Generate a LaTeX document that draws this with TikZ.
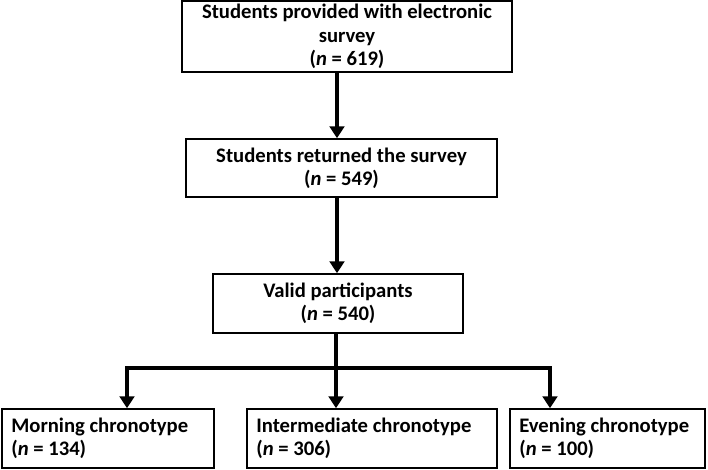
\documentclass[tikz,border=0pt]{standalone}
\usepackage{fontspec}
\setmainfont{Carlito}
\usetikzlibrary{arrows.meta}
\begin{document}
\begin{tikzpicture}[x=0.75pt,y=-0.75pt,
    box/.style={draw, line width=1.1pt, inner sep=0pt, align=center,
      font=\bfseries\fontsize{15.5}{17.5}\selectfont},
    leafbox/.style={box, align=flush left, inner xsep=7pt, text width=#1},
    flow/.style={line width=3pt, -{Triangle[width=11pt,length=9pt]}},
    trunk/.style={line width=3pt}]
    \useasboundingbox (0,0) rectangle (708,470);
    % stages
    \node[box, minimum width=247.5pt, minimum height=53.25pt] (surveyed) at (347,36.5)
        {Students provided with electronic\\survey\\(\textit{n} = 619)};
    \node[box, minimum width=233.25pt, minimum height=43.5pt] (returned) at (341.5,168)
        {Students returned the survey\\(\textit{n} = 549)};
    \node[box, minimum width=187.5pt, minimum height=44.25pt] (valid) at (338,303.5)
        {Valid participants\\(\textit{n} = 540)};
    % chronotypes
    \node[leafbox=145pt, minimum height=44.25pt] (morning) at (108,438.5)
        {Morning chronotype\\(\textit{n} = 134)};
    \node[leafbox=173.5pt, minimum height=44.25pt] (inter) at (372,438.5)
        {Intermediate chronotype\\(\textit{n} = 306)};
    \node[leafbox=132.25pt, minimum height=44.25pt] (evening) at (607.5,438.5)
        {Evening chronotype\\(\textit{n} = 100)};
    % connectors
    \coordinate (spine) at (337,0);
    \coordinate (split) at (336,368);
    \coordinate (ja) at (127,368);
    \coordinate (jc) at (550,368);
    \draw[flow] (surveyed.south -| spine) -- (returned.north -| spine);
    \draw[flow] (returned.south -| spine) -- (valid.north -| spine);
    \draw[trunk] (valid.south -| split) -- (split);
    \draw[trunk] ([xshift=-1.5pt]ja) -- ([xshift=1.5pt]jc);
    \draw[flow] (ja) -- (ja |- morning.north);
    \draw[flow] (split) -- (split |- inter.north);
    \draw[flow] (jc) -- (jc |- evening.north);
\end{tikzpicture}
\end{document}
